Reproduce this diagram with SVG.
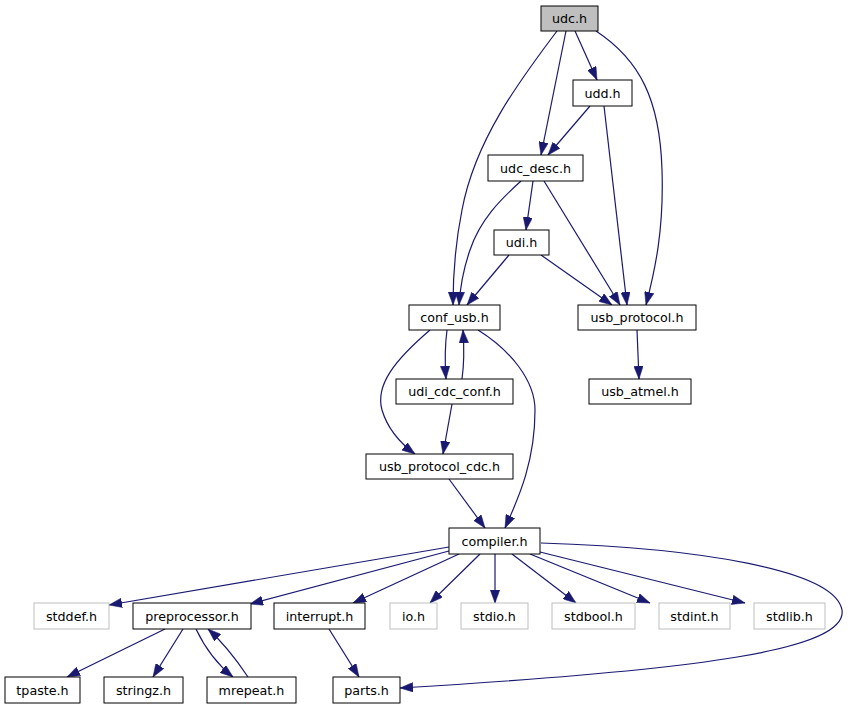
<svg xmlns="http://www.w3.org/2000/svg" width="848" height="709" viewBox="0 0 848 709">
<defs>
<marker id="a" viewBox="0 0 13 9.5" refX="13" refY="4.75" markerWidth="13" markerHeight="9.5" markerUnits="userSpaceOnUse" orient="auto">
<path d="M0,0 L13,4.75 L0,9.5 z" fill="#191970" stroke="#191970" stroke-width="0.5"/>
</marker>
<style>
.n rect{fill:#fff;stroke:#000;stroke-width:1}
.g rect{fill:#fff;stroke:#bfbfbf;stroke-width:1}
text{font-family:"DejaVu Sans",sans-serif;font-size:12.7px;text-anchor:middle;fill:#000}
.e path{fill:none;stroke:#191970;stroke-width:1.2;marker-end:url(#a)}
</style>
</defs>
<rect width="848" height="709" fill="#fff"/>
<g class="e">
<path d="M557,31 C520,80 475,140 462,210 C455,245 453,275 453,305"/>
<path d="M566,31 L541,155"/>
<path d="M575,31 L597,80"/>
<path d="M596,31 C640,60 660,100 662,170 C664,230 655,270 646,305"/>
<path d="M590,106 L548,155"/>
<path d="M604,106 L627,305"/>
<path d="M521,181 C500,200 480,220 470,250 C463,270 460,290 459,305"/>
<path d="M533,181 L526,230"/>
<path d="M544,181 L620,305"/>
<path d="M509,255 L467,305"/>
<path d="M541,255 L612,305"/>
<path d="M637,330 L639,379"/>
<path d="M447,330 C445,345 445,365 446,379"/>
<path d="M462,379 C464,365 464,345 463,330"/>
<path d="M430,330 C395,360 375,385 382,410 C388,430 400,443 415,454"/>
<path d="M478,330 C510,350 535,380 535,410 C535,460 520,495 505,528"/>
<path d="M452,404 L443,454"/>
<path d="M449,479 L485,528"/>
<path d="M449,547 L109,605"/>
<path d="M449,551 L250,604"/>
<path d="M459,554 L353,603"/>
<path d="M480,554 L430,603"/>
<path d="M495,554 L495,603"/>
<path d="M512,554 L576,603"/>
<path d="M530,554 L650,603"/>
<path d="M540,552 L745,603"/>
<path d="M541,543 C700,548 835,570 842,610 C848,650 700,670 400,688"/>
<path d="M165,629 L67,677"/>
<path d="M183,629 L153,677"/>
<path d="M196,629 C205,648 218,665 233,677"/>
<path d="M248,677 C240,665 227,646 208,629"/>
<path d="M329,629 L359,677"/>
</g>
<g id="udc_h" class="n"><rect x="541" y="6" width="57" height="25" style="fill:#bfbfbf"/><text x="569.5" y="23">udc.h</text></g>
<g id="udd_h" class="n"><rect x="573" y="80" width="59" height="26"/><text x="602.5" y="97.5">udd.h</text></g>
<g id="udc_desc_h" class="n"><rect x="488" y="155" width="95" height="26"/><text x="535.5" y="172.5">udc_desc.h</text></g>
<g id="udi_h" class="n"><rect x="494" y="230" width="55" height="25"/><text x="521.5" y="247">udi.h</text></g>
<g id="conf_usb_h" class="n"><rect x="409" y="305" width="91" height="25"/><text x="454.5" y="322">conf_usb.h</text></g>
<g id="usb_protocol_h" class="n"><rect x="578" y="305" width="118" height="25"/><text x="637" y="322">usb_protocol.h</text></g>
<g id="udi_cdc_conf_h" class="n"><rect x="396" y="379" width="117" height="25"/><text x="454.5" y="396">udi_cdc_conf.h</text></g>
<g id="usb_atmel_h" class="n"><rect x="589" y="379" width="102" height="25"/><text x="640" y="396">usb_atmel.h</text></g>
<g id="usb_protocol_cdc_h" class="n"><rect x="366" y="454" width="147" height="25"/><text x="439.5" y="471">usb_protocol_cdc.h</text></g>
<g id="compiler_h" class="n"><rect x="449" y="528" width="91" height="26"/><text x="494.5" y="545.5">compiler.h</text></g>
<g id="stddef_h" class="g"><rect x="34" y="603" width="75" height="26"/><text x="71.5" y="620.5">stddef.h</text></g>
<g id="preprocessor_h" class="n"><rect x="133" y="603" width="118" height="26"/><text x="192" y="620.5">preprocessor.h</text></g>
<g id="interrupt_h" class="n"><rect x="274" y="603" width="91" height="26"/><text x="319.5" y="620.5">interrupt.h</text></g>
<g id="io_h" class="g"><rect x="390" y="603" width="47" height="26"/><text x="413.5" y="620.5">io.h</text></g>
<g id="stdio_h" class="g"><rect x="461" y="603" width="67" height="26"/><text x="494.5" y="620.5">stdio.h</text></g>
<g id="stdbool_h" class="g"><rect x="552" y="603" width="83" height="26"/><text x="593.5" y="620.5">stdbool.h</text></g>
<g id="stdint_h" class="g"><rect x="659" y="603" width="71" height="26"/><text x="694.5" y="620.5">stdint.h</text></g>
<g id="stdlib_h" class="g"><rect x="754" y="603" width="71" height="26"/><text x="789.5" y="620.5">stdlib.h</text></g>
<g id="tpaste_h" class="n"><rect x="5" y="677" width="75" height="26"/><text x="42.5" y="694.5">tpaste.h</text></g>
<g id="stringz_h" class="n"><rect x="104" y="677" width="79" height="26"/><text x="143.5" y="694.5">stringz.h</text></g>
<g id="mrepeat_h" class="n"><rect x="207" y="677" width="89" height="26"/><text x="251.5" y="694.5">mrepeat.h</text></g>
<g id="parts_h" class="n"><rect x="333" y="677" width="67" height="26"/><text x="366.5" y="694.5">parts.h</text></g>
</svg>
